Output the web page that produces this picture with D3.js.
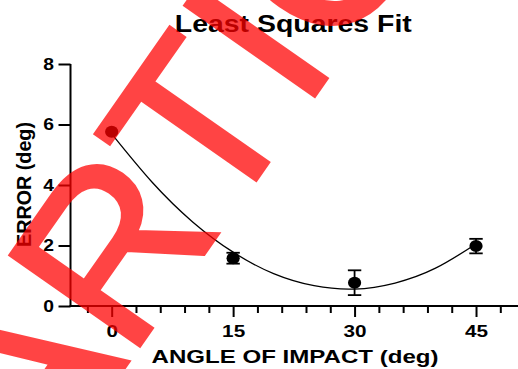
<!DOCTYPE html>
<html>
<head>
<meta charset="utf-8">
<script src="https://cdn.jsdelivr.net/npm/d3@7"></script>
<style>
  html, body { margin: 0; padding: 0; background: #fff; }
  svg { display: block; }
  text { font-family: "Liberation Sans", Arial, Helvetica, sans-serif; }
</style>
</head>
<body>
<svg id="chart" width="518" height="369"></svg>
<script>
// ---- data ----
const title = "Least Squares Fit";
const xLabel = "ANGLE OF IMPACT (deg)";
const yLabel = "ERROR (deg)";
const angles = [0, 15, 30, 45];
const errors = [5.76, 1.58, 0.77, 1.98];
const errorSD = [0, 0.18, 0.41, 0.24];
const fitAngles = [0, 5, 10, 15, 20, 25, 30, 35, 40, 45];
const fitErrors = [5.69, 4.09, 2.78, 1.78, 1.07, 0.67, 0.56, 0.76, 1.25, 2.05];
const xMajorTicks = [0, 15, 30, 45];
const xMinorTicks = [-3, 3, 6, 9, 12, 18, 21, 24, 27, 33, 36, 39, 42, 48];
const yTicks = [0, 2, 4, 6, 8];
const watermarkLead = "RETRACTED\u00A0";
const watermarkMain = "ARTICLE";

// ---- layout ----
const svg = d3.select("#chart");
const x = d3.scaleLinear().domain([-5, 50]).range([71.2, 516.5]);
const y = d3.scaleLinear().domain([0, 8]).range([306, 64]);

// title
svg.append("text")
  .attr("x", 293.3).attr("y", 31.7)
  .attr("text-anchor", "middle")
  .attr("font-size", 23).attr("font-weight", "bold")
  .attr("textLength", 237).attr("lengthAdjust", "spacingAndGlyphs")
  .text(title);

// y axis
const yAxis = svg.append("g")
  .attr("transform", "translate(70.5,0)")
  .call(d3.axisLeft(y).tickValues(yTicks).tickSize(12).tickSizeOuter(0).tickFormat(d3.format("d")));
yAxis.select(".domain").attr("stroke", "#000").attr("stroke-width", 2)
  .attr("d", `M0,${y(8)}V${y(0) + 1}`);
yAxis.selectAll(".tick line").attr("stroke", "#000").attr("stroke-width", 2);
yAxis.selectAll(".tick text")
  .attr("x", 0)
  .attr("transform", "translate(-16.5,0) scale(1.17,1)")
  .attr("font-size", 16.5).attr("font-weight", "bold")
  .attr("font-family", "'Liberation Sans', Arial, sans-serif")
  .attr("fill", "#000");

// x axis (minor ticks)
const xMinor = svg.append("g")
  .attr("transform", `translate(0,${y(0)})`)
  .call(d3.axisBottom(x).tickValues(xMinorTicks).tickSize(7).tickSizeOuter(0).tickFormat(""));
xMinor.select(".domain").attr("stroke", "#000").attr("stroke-width", 2)
  .attr("d", `M69.5,0H518`);
xMinor.selectAll(".tick line").attr("stroke", "#000").attr("stroke-width", 2);

// x axis (major ticks + labels)
const xMajor = svg.append("g")
  .attr("transform", `translate(0,${y(0)})`)
  .call(d3.axisBottom(x).tickValues(xMajorTicks).tickSize(11).tickPadding(8).tickFormat(d3.format("d")));
xMajor.select(".domain").remove();
xMajor.selectAll(".tick line").attr("stroke", "#000").attr("stroke-width", 2);
xMajor.selectAll(".tick text")
  .attr("transform", "scale(1.27,1)")
  .attr("font-size", 16.3).attr("font-weight", "bold")
  .attr("font-family", "'Liberation Sans', Arial, sans-serif")
  .attr("fill", "#000");

// axis titles
svg.append("text")
  .attr("x", 295).attr("y", 363.3)
  .attr("text-anchor", "middle")
  .attr("font-size", 19).attr("font-weight", "bold")
  .attr("textLength", 287).attr("lengthAdjust", "spacingAndGlyphs")
  .text(xLabel);

svg.append("text")
  .attr("transform", "translate(30.5,184.5) rotate(-90)")
  .attr("text-anchor", "middle")
  .attr("font-size", 20).attr("font-weight", "bold")
  .attr("textLength", 125).attr("lengthAdjust", "spacingAndGlyphs")
  .text(yLabel);

// fit curve
const line = d3.line()
  .x((d, i) => x(fitAngles[i]))
  .y(d => y(d))
  .curve(d3.curveNatural);
svg.append("path")
  .datum(fitErrors)
  .attr("d", line)
  .attr("fill", "none")
  .attr("stroke", "#000")
  .attr("stroke-width", 1.3);

// error bars
const eb = svg.append("g").attr("stroke", "#000").attr("stroke-width", 1.8);
angles.forEach((a, i) => {
  if (errorSD[i] <= 0) return;
  const cx = x(a), y1 = y(errors[i] + errorSD[i]), y2 = y(errors[i] - errorSD[i]);
  eb.append("line").attr("x1", cx).attr("x2", cx).attr("y1", y1).attr("y2", y2);
  eb.append("line").attr("x1", cx - 6.7).attr("x2", cx + 6.7).attr("y1", y1).attr("y2", y1);
  eb.append("line").attr("x1", cx - 6.7).attr("x2", cx + 6.7).attr("y1", y2).attr("y2", y2);
});

// points
svg.append("g").selectAll("ellipse")
  .data(errors)
  .join("ellipse")
  .attr("cx", (d, i) => x(angles[i]))
  .attr("cy", d => y(d))
  .attr("rx", 6.6).attr("ry", 6.0)
  .attr("fill", "#000");

// watermark
const wm = svg.append("g")
  .attr("transform", "translate(41,487) rotate(-55)")
  .attr("fill", "#ff0000").attr("stroke", "#ff0000").attr("stroke-width", 3.5)
  .attr("stroke-linejoin", "miter")
  .attr("opacity", 0.73)
  .attr("font-size", 230);
wm.append("text").attr("x", 0).attr("y", 0).attr("text-anchor", "start").text(watermarkMain);
wm.append("text").attr("x", 0).attr("y", 0).attr("text-anchor", "end").text(watermarkLead);
</script>
</body>
</html>
